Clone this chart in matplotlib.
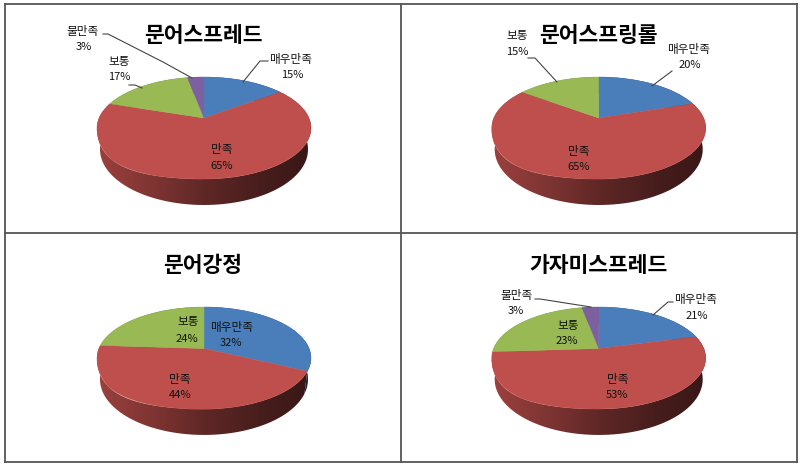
import numpy as np
import matplotlib
matplotlib.use("Agg")
import matplotlib.pyplot as plt
from matplotlib.patches import Polygon
from matplotlib.transforms import Transform
from matplotlib.colors import to_rgb

plt.rcParams['font.family'] = ['Noto Sans CJK KR', 'DejaVu Sans']

# ---- data ----
categories = ['매우만족', '만족', '보통', '불만족']
titles = ['문어스프레드', '문어스프링롤', '문어강정', '가자미스프레드']
values_spread = [15, 65, 17, 3]
values_springroll = [20, 65, 15, 0]
values_gangjeong = [32, 44, 24, 0]
values_flounder = [21, 53, 23, 3]
all_values = [values_spread, values_springroll, values_gangjeong, values_flounder]

# ---- styles / layout (figure pixels, y downward) ----
colors = ['#4A7EBB', '#BE4F4C', '#98B954', '#7D60A0']
# apex x, apex y, half width, top y, bottom y of the pie's top face
pie_geom = [(204, 118, 107, 77, 179), (598.7, 118, 107, 77, 179),
            (204, 348.5, 107, 307, 409), (598.7, 348.5, 107, 307, 409)]
title_pos = [(203, 35), (598, 36), (203, 266), (598.5, 265)]
label_pos = [
    [(291, 60, 292, 75.5), (222, 150, 222, 166), (119, 62, 119, 77), (83, 31, 84, 47)],
    [(689, 49, 690, 65), (579, 151, 579, 167), (517, 36, 517, 52), None],
    [(232, 327, 231, 343), (180, 379, 180, 395), (188, 322, 187, 339), None],
    [(696, 299, 697, 316), (618, 379, 617, 395), (568, 325, 567, 341), (517, 296, 516, 311)],
]
leaders = [
    [[(103, 34), (108, 34), (163, 62), (192, 78)],
     [(129, 85), (135, 85), (142, 88)],
     [(268, 61), (260, 61), (243, 82)]],
    [[(672, 71), (652, 86)],
     [(528, 58), (535, 58), (557, 82)]],
    [],
    [[(535, 299), (540, 299), (591, 307)],
     [(673, 302), (668, 302), (653, 315)]],
]
frame_x = [5, 401, 797]
frame_y = [4, 232.5, 462]
shade_x = [0, .3, .5, .8, 1]
shade_f = [.82, .64, .50, .36, .30]


class Perspective(Transform):
    """Tilted-disc projection of the unit circle to figure pixels."""
    input_dims = output_dims = 2

    def __init__(self, cx, cy, R, P, k, W, yc, h, bulge=0.0):
        super().__init__()
        self.cx, self.cy, self.R, self.P, self.k = cx, cy, R, P, k
        self.W, self.yc, self.h, self.bulge = W, yc, h, bulge

    def transform_non_affine(self, xy):
        xy = np.asarray(xy, float)
        w = 1 + self.k * xy[:, 1]
        X = self.cx + self.R * xy[:, 0] / w
        Y = self.cy - self.P * xy[:, 1] / w
        if self.bulge:
            # the reference's face sags a little on its lower-left side
            u = (X - self.cx) / self.W
            v = np.clip((Y - self.yc) / self.h, 0, 1)
            Y = Y + np.where(u < 0, self.bulge * self.h * v * (1 - v), 0)
        return np.column_stack([X, Y])


fig = plt.figure(figsize=(8, 4.66), dpi=100, facecolor='white')
ax = fig.add_axes([0, 0, 1, 1])

for vals, (cx, cy, W, top, bot) in zip(all_values, pie_geom):
    a, b = cy - top, bot - cy
    k = (b - a) / (a + b)
    P = a * (1 + k)
    R = W * np.sqrt(1 - k ** 2)
    yc, h = (top + bot) / 2, (bot - top) / 2
    upper = Perspective(cx, cy, R, P, k, W, yc, h, bulge=0.45)
    lower = Perspective(cx, cy + 20.5, R * .972, P * 1.09, k, W, yc, h)

    # side wall of each slice with a left-to-right shading
    fractions = np.cumsum([0] + vals) / sum(vals)
    for i, col in enumerate(colors):
        if vals[i] == 0:
            continue
        th = np.linspace(fractions[i], fractions[i + 1], 120) * 2 * np.pi
        arc = np.column_stack([np.sin(th), np.cos(th)])
        outline = np.vstack([upper.transform_non_affine(arc),
                             lower.transform_non_affine(arc)[::-1]])
        u = np.linspace(0, 1, 256)
        shade = np.interp(u, shade_x, shade_f)
        grad = (np.outer(shade, to_rgb(col)))[None, :, :]
        im = ax.imshow(grad, extent=(cx - W, cx + W, 466, 0), aspect='auto',
                       interpolation='bilinear', zorder=1)
        poly = Polygon(outline, closed=True, transform=ax.transData,
                       fc='none', ec='none')
        ax.add_patch(poly)
        im.set_clip_path(poly)

    # top face
    shown = [v for v in vals if v > 0]
    wedges, _ = ax.pie(shown, colors=colors, startangle=90,
                       counterclock=False, radius=1,
                       wedgeprops=dict(linewidth=0.3, zorder=2))
    for w, col in zip(wedges, colors):
        w.set_edgecolor(col)
        w.set_transform(upper + ax.transData)
        w.set_zorder(2)

for title, (x, y) in zip(titles, title_pos):
    ax.text(x, y, title, ha='center', va='center', fontsize=15.5,
            fontweight='bold', color='black', zorder=5)

for vals, positions in zip(all_values, label_pos):
    for cat, v, pos in zip(categories, vals, positions):
        if pos is None:
            continue
        ax.text(pos[0], pos[1], cat, ha='center', va='center', fontsize=8.4, color='#111111', zorder=5)
        ax.text(pos[2], pos[3], f'{v}%', ha='center', va='center', fontsize=8, color='#111111', zorder=5)

for group in leaders:
    for line in group:
        xs, ys = zip(*line)
        ax.plot(xs, ys, color='#444444', lw=0.8, zorder=4)

for x in frame_x:
    ax.plot([x, x], [frame_y[0], frame_y[-1]], color='#555555', lw=1.3, zorder=6, solid_capstyle='projecting')
for y in frame_y:
    ax.plot([frame_x[0], frame_x[-1]], [y, y], color='#555555', lw=1.3, zorder=6, solid_capstyle='projecting')

ax.set_aspect('auto')
ax.set_xlim(0, 800)
ax.set_ylim(466, 0)
ax.axis('off')
fig.savefig('out.png', dpi=100, facecolor='white')
